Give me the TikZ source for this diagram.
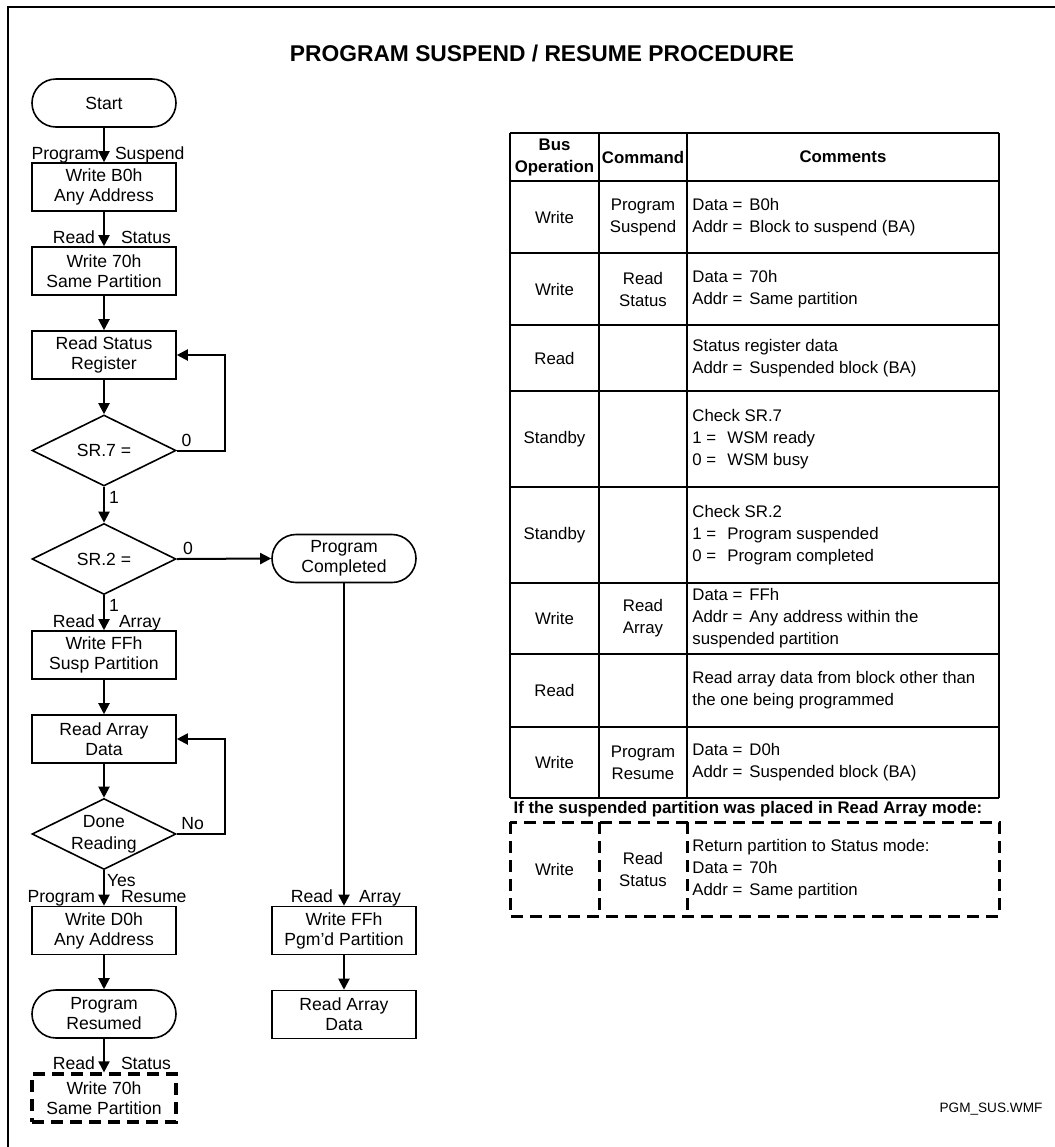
\documentclass[tikz,border=0pt]{standalone}
\usepackage{fontspec}
\setmainfont{Liberation Sans}
\usetikzlibrary{arrows.meta,shapes.geometric,positioning}
\newcommand\flowfont{\fontsize{8.8}{10}\selectfont}
\newcommand\tabfont{\fontsize{8.4}{11}\selectfont}
\newcommand\fieldval[2]{\makebox[28.5pt][l]{#1}#2}
\newcommand\bitval[2]{\makebox[17.5pt][l]{#1}#2}

\begin{document}
\begin{tikzpicture}
	[x=0.5pt, y=-0.5pt, inner sep=0pt,
	process/.style	= {rectangle, draw, line width=0.8pt, minimum width=72pt, minimum height=24pt, align=center, font=\flowfont},
	optional/.style	= {process, line width=1.6pt, dash pattern=on 6pt off 3.5pt},
	terminal/.style	= {process, rounded corners=12pt},
	decision/.style	= {diamond, draw, line width=0.8pt, inner sep=-1.5pt, aspect=2, minimum width=72pt, minimum height=35.5pt, align=center, font=\fontsize{8.8}{11}\selectfont},
	flow/.style	= {-{Triangle[width=5.5pt, length=5.5pt]}, line width=1pt},
	cmd/.style	= {font=\flowfont, pos=1, yshift=1.5pt},
	bit/.style	= {font=\flowfont},
	grid/.style	= {line width=0.65pt},
	dgrid/.style	= {line width=1.5pt, dash pattern=on 6pt off 3.5pt},
	cell/.style	= {align=center, font=\tabfont},
	note/.style	= {align=left, anchor=west, font=\tabfont}]
	
	\useasboundingbox (0,0) rectangle (1055,1147);
	\draw [line width=1pt] (8,1147) -- (8,7) -- (1055,7);
	
	\node at (542, 53)	[font=\fontsize{11.4}{13}\selectfont\bfseries]	(title)	{PROGRAM SUSPEND / RESUME PROCEDURE};
	
	% flow chart, left column
	\node at (104, 103)	[terminal]	(start)	{Start};
	\node at (104, 187)	[process]	(wb0)	{Write B0h\\Any Address};
	\node at (104, 271)	[process]	(w70)	{Write 70h\\Same Partition};
	\node at (104, 355)	[process]	(rsr)	{Read Status\\Register};
	\node at (104, 450.5)	[decision]	(sr7)	{SR.7 =};
	\node at (104, 559)	[decision]	(sr2)	{SR.2 =};
	\node at (104, 655)	[process]	(wffs)	{Write FFh\\Susp Partition};
	\node at (104, 739)	[process]	(rad)	{Read Array\\Data};
	\node at (104, 834)	[decision]	(done)	{Done\\Reading};
	\node at (104, 930.5)	[process]	(wd0)	{Write D0h\\Any Address};
	\node at (104, 1014)	[terminal]	(pres)	{Program\\Resumed};
	\node at (104, 1098)	[optional]	(w70b)	{Write 70h\\Same Partition};
	
	% right column
	\node at (344, 558.5)	[terminal]	(pcomp)	{Program\\Completed};
	\node at (344, 930.5)	[process]	(wffp)	{Write FFh\\Pgm'd Partition};
	\node at (344, 1014.5)	[process]	(rad2)	{Read Array\\Data};
	
	\draw [flow] (start) -- node[cmd, anchor=base east, xshift=-2pt] (c1l) {Program} node[cmd, anchor=base west, xshift=5pt] (c1r) {Suspend} (wb0);
	\draw [flow] (wb0) -- node[cmd, anchor=base east, xshift=-4pt] (c2l) {Read} node[cmd, anchor=base west, xshift=8pt] (c2r) {Status} (w70);
	\draw [flow] (w70) -- (rsr);
	\draw [flow] (rsr) -- (sr7);
	\draw [flow] (sr7.east) -- node[bit, pos=0.2, anchor=south, yshift=1.5pt] (z7) {0} ++(48,0) |- (rsr.east);
	\draw [flow] (sr7.south) -- node[bit, pos=0.3, anchor=west, xshift=2pt] (o7) {1} (sr2.north);
	\draw [flow] (sr2.east) -- node[bit, pos=0.12, anchor=south, yshift=1.5pt] (z2) {0} (pcomp.west);
	\draw [flow] (sr2.south) -- node[bit, pos=0.28, anchor=west, xshift=2pt] (o2) {1}
		node[cmd, anchor=base east, xshift=-4pt] (c3l) {Read} node[cmd, anchor=base west, xshift=7pt] (c3r) {Array} (wffs.north);
	\draw [flow] (wffs) -- (rad);
	\draw [flow] (rad) -- (done);
	\draw [flow] (done.east) -- node[bit, pos=0.33, anchor=south, yshift=1.5pt] (no) {No} ++(48,0) |- (rad.east);
	\draw [flow] (done.south) -- node[bit, pos=0.3, anchor=west, xshift=1pt] (yes) {Yes}
		node[cmd, anchor=base east, xshift=-4pt] (c4l) {Program} node[cmd, anchor=base west, xshift=8pt] (c4r) {Resume} (wd0.north);
	\draw [flow] (wd0) -- (pres);
	\draw [flow] (pres) -- node[cmd, anchor=base east, xshift=-4pt] (c5l) {Read} node[cmd, anchor=base west, xshift=8pt] (c5r) {Status} (w70b);
	\draw [flow] (pcomp) -- node[cmd, anchor=base east, xshift=-5pt] (c6l) {Read} node[cmd, anchor=base west, xshift=7pt] (c6r) {Array} (wffp);
	\draw [flow] (wffp) -- (rad2);
	
	% bus operation table
	\foreach \y in {133,181,253,325,391,487,583,654,727,798}
		\draw [grid] (510,\y) -- (999,\y);
	\foreach \x in {510,599,999}
		\draw [grid] (\x,133) -- (\x,798);
	\draw [grid, line width=1.1pt] (687,133) -- (687,798);
	
	\node at (554.5, 157)	[cell, font=\tabfont\bfseries]	(hbus)	{Bus\\Operation};
	\node at (643, 157)	[cell, font=\tabfont\bfseries]	(hcmd)	{Command};
	\node at (843, 157)	[cell, font=\tabfont\bfseries]	(hcom)	{Comments};
	
	\node at (554.5, 217)	[cell]	(b1)	{Write};
	\node at (643, 217)	[cell]	(m1)	{Program\\Suspend};
	\node at (692, 217)	[note]	(n1)	{\fieldval{Data =}{B0h}\\\fieldval{Addr =}{Block to suspend (BA)}};
	
	\node at (554.5, 289)	[cell]	(b2)	{Write};
	\node at (643, 289)	[cell]	(m2)	{Read\\Status};
	\node at (692, 289)	[note]	(n2)	{\fieldval{Data =}{70h}\\\fieldval{Addr =}{Same partition}};
	
	\node at (554.5, 358)	[cell]	(b3)	{Read};
	\node at (692, 358)	[note]	(n3)	{Status register data\\\fieldval{Addr =}{Suspended block (BA)}};
	
	\node at (554.5, 439)	[cell]	(b4)	{Standby};
	\node at (692, 439)	[note]	(n4)	{Check SR.7\\\bitval{1 =}{WSM ready}\\\bitval{0 =}{WSM busy}};
	
	\node at (554.5, 535)	[cell]	(b5)	{Standby};
	\node at (692, 535)	[note]	(n5)	{Check SR.2\\\bitval{1 =}{Program suspended}\\\bitval{0 =}{Program completed}};
	
	\node at (554.5, 618.5)	[cell]	(b6)	{Write};
	\node at (643, 618.5)	[cell]	(m6)	{Read\\Array};
	\node at (692, 618.5)	[note]	(n6)	{\fieldval{Data =}{FFh}\\\fieldval{Addr =}{Any address within the}\\suspended partition};
	
	\node at (554.5, 690.5)	[cell]	(b7)	{Read};
	\node at (692, 690.5)	[note]	(n7)	{Read array data from block other than\\the one being programmed};
	
	\node at (554.5, 762.5)	[cell]	(b8)	{Write};
	\node at (643, 762.5)	[cell]	(m8)	{Program\\Resume};
	\node at (692, 762.5)	[note]	(n8)	{\fieldval{Data =}{D0h}\\\fieldval{Addr =}{Suspended block (BA)}};
	
	\node at (748, 809)	[font=\fontsize{8.4}{10}\selectfont\bfseries]	(ifnote)	{If the suspended partition was placed in Read Array mode:};
	
	% optional row
	\draw [dgrid] (510,822) rectangle (999,916);
	\draw [dgrid] (599,822) -- (599,916);
	\draw [dgrid] (687,822) -- (687,916);
	\node at (554.5, 869)	[cell]	(b9)	{Write};
	\node at (643, 869)	[cell]	(m9)	{Read\\Status};
	\node at (692, 869)	[note]	(n9)	{Return partition to Status mode:\\\fieldval{Data =}{70h}\\\fieldval{Addr =}{Same partition}};
	
	\node at (991, 1109)	[font=\fontsize{6.8}{8}\selectfont]	(fname)	{PGM\_SUS.WMF};
\end{tikzpicture}
\end{document}
